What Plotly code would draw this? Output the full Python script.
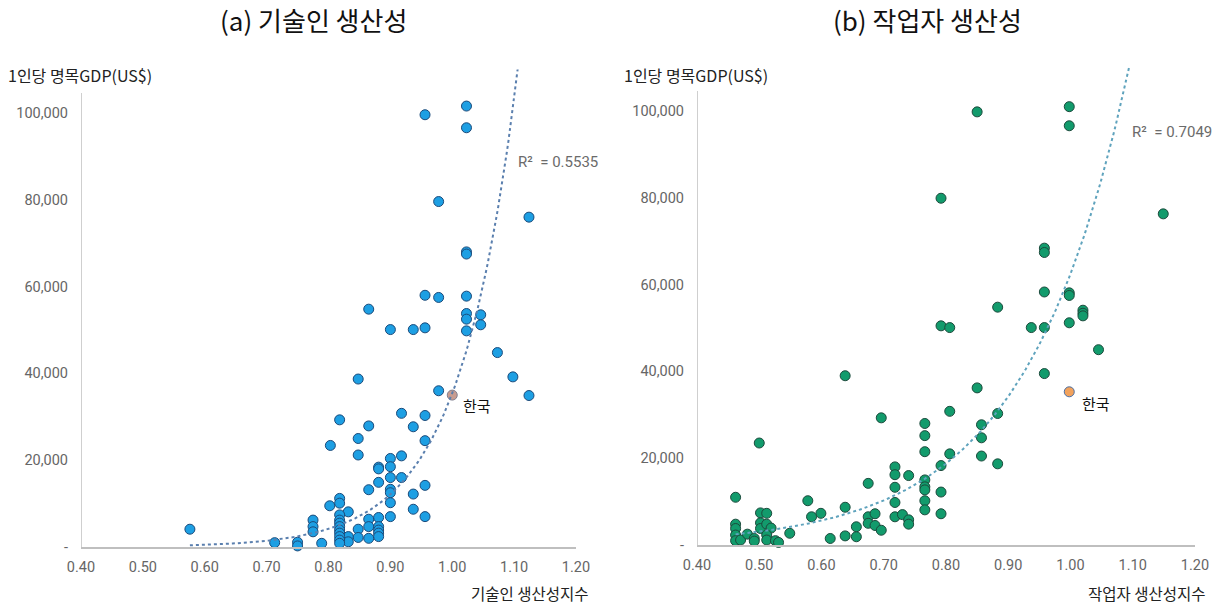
import plotly.graph_objects as go
import math

# ---------------- data ----------------
tech_x = [1.023, 0.956, 1.023, 0.978, 1.124, 1.023, 1.023, 0.956, 0.978, 1.023,
          0.865, 1.023, 1.046, 1.023, 1.046, 0.900, 0.937, 0.956, 1.023, 1.073,
          1.098, 1.124, 0.978, 0.848, 0.818, 0.865, 0.918, 0.956, 0.937, 0.803,
          0.848, 0.848, 0.956, 0.900, 0.918, 0.881, 0.881, 0.900, 0.900, 0.918,
          0.881, 0.865, 0.900, 0.900, 0.956, 0.937, 0.900, 0.937, 0.956, 0.900,
          0.881, 0.865, 0.865, 0.848, 0.881, 0.881, 0.881, 0.881, 0.865, 0.848,
          0.832, 0.832, 0.832, 0.802, 0.818, 0.818, 0.818, 0.818, 0.818, 0.818,
          0.818, 0.818, 0.818, 0.818, 0.818, 0.775, 0.775, 0.775, 0.789, 0.750,
          0.750, 0.713, 0.576]
tech_gdp = [101600, 99600, 96600, 79600, 76000, 68000, 67500, 58000, 57500, 57800,
            54800, 53800, 53500, 52500, 51200, 50100, 50100, 50500, 49800, 44800,
            39200, 34900, 36000, 38700, 29300, 27900, 30800, 30300, 27700, 23400,
            25000, 21200, 24500, 20400, 21000, 18400, 18000, 18500, 16000, 16000,
            14900, 13200, 13300, 12500, 14200, 12200, 10200, 8700, 7000, 7000,
            6800, 6400, 4700, 4100, 4700, 3900, 3200, 2400, 2000, 2200,
            8100, 2400, 1200, 9500, 11200, 10100, 7400, 6200, 5500, 4700,
            3900, 3200, 2400, 1600, 850, 6200, 4700, 3500, 850, 1100,
            250, 1000, 4100]

work_x = [0.998, 0.850, 0.998, 0.792, 1.149, 0.958, 0.958, 0.958, 0.998, 0.998,
          0.883, 1.020, 1.020, 1.020, 0.998, 0.792, 0.806, 0.937, 0.958, 1.045,
          0.958, 0.638, 0.850, 0.806, 0.883, 0.696, 0.766, 0.857, 0.766, 0.857,
          0.500, 0.766, 0.806, 0.857, 0.883, 0.792, 0.718, 0.718, 0.740, 0.766,
          0.675, 0.766, 0.718, 0.766, 0.792, 0.462, 0.578, 0.766, 0.718, 0.638,
          0.766, 0.792, 0.599, 0.584, 0.675, 0.686, 0.718, 0.730, 0.740, 0.740,
          0.675, 0.686, 0.696, 0.656, 0.656, 0.638, 0.614, 0.549, 0.502, 0.512,
          0.462, 0.462, 0.462, 0.462, 0.470, 0.481, 0.492, 0.492, 0.502, 0.502,
          0.512, 0.519, 0.512, 0.512, 0.526, 0.531]
work_gdp = [101000, 99800, 96600, 79900, 76300, 68400, 67400, 58300, 58100, 57500,
            54800, 54100, 53400, 52800, 51200, 50500, 50100, 50100, 50100, 45000,
            39500, 39000, 36200, 30800, 30300, 29300, 28000, 27700, 25200, 24700,
            23500, 21500, 21000, 20500, 18700, 18300, 18000, 16200, 16000, 15000,
            14200, 13400, 13300, 12700, 12200, 11000, 10200, 10200, 9800, 8700,
            8100, 7200, 7300, 6500, 6500, 7200, 6500, 7000, 5800, 4800,
            5000, 4500, 3400, 4200, 1900, 2100, 1500, 2700, 7400, 7300,
            4800, 3800, 2300, 1000, 1150, 2500, 1500, 900, 5100, 3800,
            4800, 3900, 2300, 1150, 1000, 600]

korea_tech = (1.000, 35000)
korea_work = (0.998, 35300)

# exponential trend lines (y = a * exp(b * (x - x0))) as shown in the chart
tech_trend = dict(a=35400, b=10.7, x0=1.0, r2="R²\u00a0\u00a0= 0.5535")
work_trend = dict(a=50000, b=6.02, x0=0.963, r2="R²\u00a0\u00a0= 0.7049")

x_ticks = [0.4, 0.5, 0.6, 0.7, 0.8, 0.9, 1.0, 1.1, 1.2]
x_ticktext = ["0.40", "0.50", "0.60", "0.70", "0.80", "0.90", "1.00", "1.10", "1.20"]
y_ticks = [0, 20000, 40000, 60000, 80000, 100000]
y_ticktext = ["-", "20,000", "40,000", "60,000", "80,000", "100,000"]

titles = ["(a) 기술인 생산성", "(b) 작업자 생산성"]
x_titles = ["기술인 생산성지수", "작업자 생산성지수"]
y_title = "1인당 명목GDP(US$)"
korea_label = "한국"

# ---------------- figure ----------------
FONT = "Roboto, 'Noto Sans CJK KR', sans-serif"
KFONT = "'Noto Sans CJK KR', sans-serif"
TICK_COLOR = "#666666"
AXIS_COLOR = "#bfbfbf"

fig = go.Figure()

panels = [
    dict(xs=tech_x, ys=tech_gdp, korea=korea_tech, trend=tech_trend, xa="x", ya="y",
         fill="#1d9fe3", edge="#1b4a7a", kfill="#c89c90", kedge="#7f7f90",
         tcolor="#5a7fae"),
    dict(xs=work_x, ys=work_gdp, korea=korea_work, trend=work_trend, xa="x2", ya="y2",
         fill="#129b6c", edge="#1c4a3c", kfill="#f2a25c", kedge="#4a6fa5",
         tcolor="#5fa3bd"),
]

for p in panels:
    fig.add_trace(go.Scatter(
        x=p["xs"], y=p["ys"], mode="markers", xaxis=p["xa"], yaxis=p["ya"],
        marker=dict(size=10, color=p["fill"], line=dict(color=p["edge"], width=1)),
        cliponaxis=False, showlegend=False, hoverinfo="skip"))
    fig.add_trace(go.Scatter(
        x=[p["korea"][0]], y=[p["korea"][1]], mode="markers", xaxis=p["xa"], yaxis=p["ya"],
        marker=dict(size=10, color=p["kfill"], line=dict(color=p["kedge"], width=1)),
        cliponaxis=False, showlegend=False, hoverinfo="skip"))
    t = p["trend"]
    xmin, xmax = min(p["xs"]), max(p["xs"])
    n = 200
    tx = [xmin + (xmax - xmin) * i / (n - 1) for i in range(n)]
    ty = [t["a"] * math.exp(t["b"] * (v - t["x0"])) for v in tx]
    fig.add_trace(go.Scatter(
        x=tx, y=ty, mode="lines", xaxis=p["xa"], yaxis=p["ya"],
        line=dict(color=p["tcolor"], width=2, dash="dot"),
        showlegend=False, hoverinfo="skip"))

W, H = 1222, 605
def px_x(v):
    return v / W
def px_y(v):
    return (H - v) / H

axis_common_x = dict(range=[0.4, 1.2], tickvals=x_ticks, ticktext=x_ticktext,
                     showgrid=False, zeroline=False, showline=True, automargin=False,
                     linecolor=AXIS_COLOR, linewidth=1.5, ticks="",
                     tickfont=dict(family=FONT, size=14.5, color=TICK_COLOR),
                     ticklabelstandoff=6)
axis_common_y = dict(range=[0, 110000], tickvals=y_ticks, ticktext=y_ticktext,
                     showgrid=False, zeroline=False, showline=False, ticks="",
                     automargin=False,
                     tickfont=dict(family=FONT, size=14.5, color=TICK_COLOR),
                     ticklabelstandoff=12)

fig.update_layout(
    width=W, height=H, margin=dict(l=0, r=0, t=0, b=0, autoexpand=False),
    paper_bgcolor="white", plot_bgcolor="white",
    xaxis=dict(domain=[px_x(81), px_x(576)], anchor="y", **axis_common_x),
    yaxis=dict(domain=[px_y(547), px_y(547 - 477.4)], anchor="x", **axis_common_y),
    xaxis2=dict(domain=[px_x(697), px_x(1195)], anchor="y2", **axis_common_x),
    yaxis2=dict(domain=[px_y(545), px_y(545 - 477.4)], anchor="x2", **axis_common_y),
)

# y axis lines (stop a little above the top tick, as in the original)
for xa, ya in [("x", "y"), ("x2", "y2")]:
    fig.add_shape(type="line", xref=xa, yref=ya, x0=0.4, x1=0.4, y0=0, y1=104600,
                  line=dict(color=AXIS_COLOR, width=1.5), layer="below")

annotations = []
# panel titles
for txt, cx in zip(titles, [313, 927]):
    annotations.append(dict(text=txt, xref="paper", yref="paper", x=px_x(cx), y=px_y(19),
                            showarrow=False, xanchor="center", yanchor="middle",
                            font=dict(family=KFONT, size=26, color="#111111")))
# y titles
for lx in [6, 622]:
    annotations.append(dict(text=y_title, xref="paper", yref="paper", x=px_x(lx), y=px_y(75),
                            showarrow=False, xanchor="left", yanchor="middle",
                            font=dict(family=KFONT, size=16, color="#222222")))
# x titles
for txt, rx in zip(x_titles, [591, 1208]):
    annotations.append(dict(text=txt, xref="paper", yref="paper", x=px_x(rx), y=px_y(593),
                            showarrow=False, xanchor="right", yanchor="middle",
                            font=dict(family=KFONT, size=15.5, color="#222222")))
# R² labels
annotations.append(dict(text=tech_trend["r2"], xref="x", yref="y", x=1.103, y=88700,
                        showarrow=False, xanchor="left", yanchor="middle",
                        font=dict(family=FONT, size=15, color="#6b6b6b")))
annotations.append(dict(text=work_trend["r2"], xref="x2", yref="y2", x=1.096, y=95200,
                        showarrow=False, xanchor="left", yanchor="middle",
                        font=dict(family=FONT, size=15, color="#6b6b6b")))
# Korea labels
for (kx, ky), xa, ya, dx, dy in [(korea_tech, "x", "y", 9, -10), (korea_work, "x2", "y2", 11, -12)]:
    annotations.append(dict(text=korea_label, xref=xa, yref=ya, x=kx, y=ky,
                            xshift=dx, yshift=dy, showarrow=False,
                            xanchor="left", yanchor="middle",
                            font=dict(family=KFONT, size=15, color="#111111")))

fig.update_layout(annotations=annotations)

fig.write_html("out.html", config={"displayModeBar": False},
               post_script="document.body.style.margin='0';document.body.style.overflow='hidden';")
